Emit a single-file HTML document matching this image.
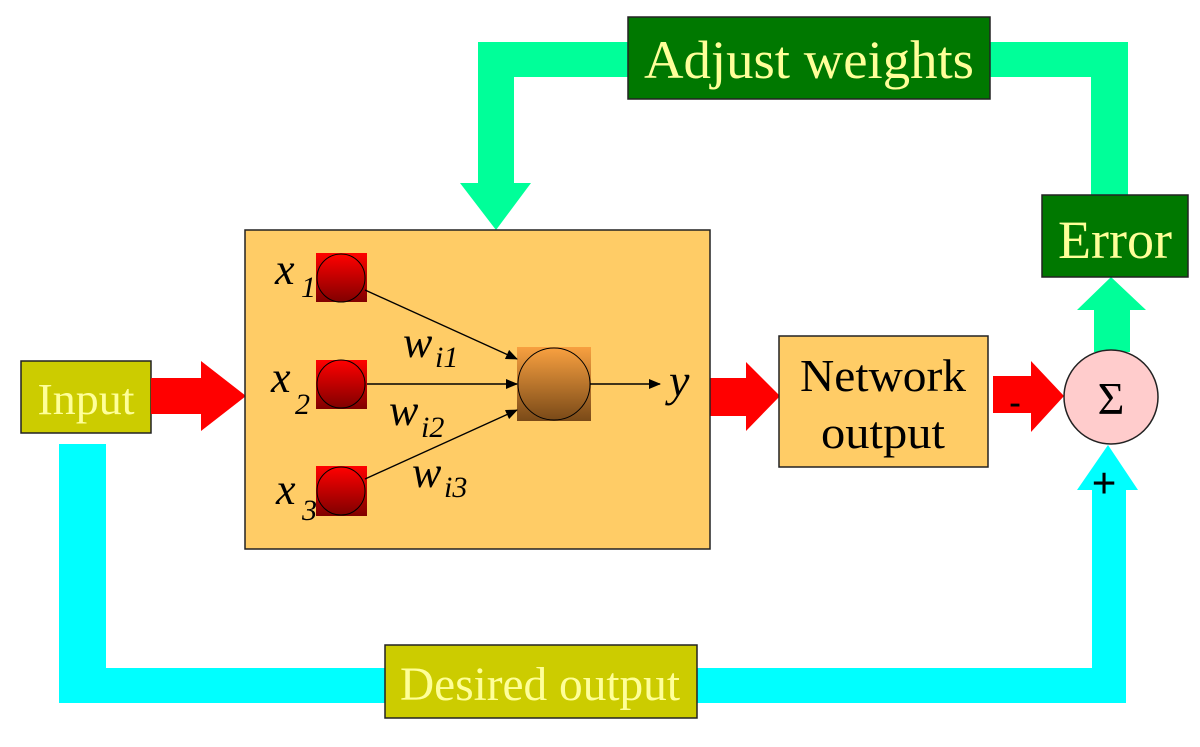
<!DOCTYPE html>
<html><head><meta charset="utf-8"><style>
html,body{margin:0;padding:0;background:#fff;}
svg{display:block;}
text{font-family:"Liberation Serif",serif;}
</style></head><body>
<svg width="1200" height="747" viewBox="0 0 1200 747" xmlns="http://www.w3.org/2000/svg">
<defs>
<linearGradient id="rg" x1="0" y1="0" x2="0" y2="1"><stop offset="0" stop-color="#ff0000"/><stop offset="1" stop-color="#800000"/></linearGradient>
<linearGradient id="og" x1="0" y1="0" x2="0" y2="1"><stop offset="0" stop-color="#f8a040"/><stop offset="1" stop-color="#7a4a18"/></linearGradient>
<marker id="ah" markerWidth="12" markerHeight="10" refX="11" refY="5" orient="auto" markerUnits="userSpaceOnUse"><path d="M0,0 L12,5 L0,10 Z" fill="#000"/></marker>
</defs>
<path d="M59,444 H106 V668 H1092 V490 H1077 L1108,445 L1138,490 H1126 V703 H59 Z" fill="#00ffff"/>
<path d="M478,42 H1128 V196 H1091 V77 H514 V183 H531 L496,230 L460,183 H478 Z" fill="#00ff99"/>
<path d="M1094,352 V310 H1077 L1111,277 L1146,310 H1130 V352 Z" fill="#00ff99"/>
<rect x="628" y="17" width="362" height="82" fill="#007800" stroke="#222" stroke-width="1.5"/>
<text x="809" y="78" font-size="54" fill="#ffff99" text-anchor="middle" textLength="330" lengthAdjust="spacingAndGlyphs">Adjust weights</text>
<rect x="1042" y="195" width="146" height="82" fill="#007800" stroke="#222" stroke-width="1.5"/>
<text x="1115" y="258" font-size="54" fill="#ffff99" text-anchor="middle" textLength="114" lengthAdjust="spacingAndGlyphs">Error</text>
<rect x="21" y="361" width="130" height="72" fill="#cccc00" stroke="#222" stroke-width="1.5"/>
<text x="86" y="414" font-size="44" fill="#ffff99" text-anchor="middle" textLength="97" lengthAdjust="spacingAndGlyphs">Input</text>
<rect x="385" y="645" width="312" height="73" fill="#cccc00" stroke="#222" stroke-width="1.5"/>
<text x="540" y="700" font-size="48" fill="#ffff99" text-anchor="middle" textLength="280" lengthAdjust="spacingAndGlyphs">Desired output</text>
<path d="M151,378 H201 V361 L246,396 L201,431 V414 H151 Z" fill="#ff0000"/>
<path d="M710,378 H746 V362 L780,396 L746,431 V416 H710 Z" fill="#ff0000"/>
<path d="M993,376 H1031 V361 L1064,396 L1031,432 V413 H993 Z" fill="#ff0000"/>
<text x="1015" y="413" font-size="34" font-weight="bold" fill="#000" text-anchor="middle" font-family="Liberation Sans,sans-serif">-</text>
<rect x="245" y="230" width="465" height="319" fill="#ffcc66" stroke="#222" stroke-width="1.5"/>
<rect x="779" y="336" width="209" height="131" fill="#ffcc66" stroke="#222" stroke-width="1.5"/>
<text x="883" y="391" font-size="46" fill="#000" text-anchor="middle" textLength="166" lengthAdjust="spacingAndGlyphs">Network</text>
<text x="883" y="448" font-size="46" fill="#000" text-anchor="middle" textLength="124" lengthAdjust="spacingAndGlyphs">output</text>
<g stroke="#000" stroke-width="1">
<rect x="316" y="253" width="51" height="49" fill="url(#rg)" stroke="none"/>
<circle cx="341" cy="278" r="24" fill="url(#rg)"/>
<rect x="316" y="360" width="51" height="49" fill="url(#rg)" stroke="none"/>
<circle cx="341" cy="384" r="24" fill="url(#rg)"/>
<rect x="316" y="466" width="51" height="50" fill="url(#rg)" stroke="none"/>
<circle cx="341" cy="491" r="24" fill="url(#rg)"/>
<rect x="517" y="347" width="74" height="74" fill="url(#og)" stroke="none"/>
<circle cx="554" cy="384" r="36" fill="url(#og)"/>
</g>
<g stroke="#000" stroke-width="1.4" marker-end="url(#ah)">
<line x1="365" y1="290" x2="517" y2="359"/>
<line x1="367" y1="384" x2="517" y2="384"/>
<line x1="365" y1="479" x2="517" y2="410"/>
<line x1="590" y1="384" x2="660" y2="384"/>
</g>
<g font-style="italic" fill="#000">
<text x="275" y="284" font-size="44">x</text><text x="301" y="297" font-size="30">1</text>
<text x="271" y="392" font-size="44">x</text><text x="295" y="414" font-size="30">2</text>
<text x="276" y="504" font-size="44">x</text><text x="302" y="520" font-size="30">3</text>
<text x="403" y="357" font-size="44">w</text><text x="435" y="367" font-size="30">i1</text>
<text x="389" y="425" font-size="44">w</text><text x="421" y="437" font-size="30">i2</text>
<text x="412" y="487" font-size="44">w</text><text x="444" y="497" font-size="30">i3</text>
<text x="669" y="396" font-size="46">y</text>
</g>
<circle cx="1111" cy="397" r="47" fill="#ffcccc" stroke="#222" stroke-width="1.5"/>
<text x="1111" y="414" font-size="46" fill="#000" text-anchor="middle">Σ</text>
<text x="1104" y="498" font-size="44" font-weight="bold" fill="#000" text-anchor="middle" font-family="Liberation Sans,sans-serif">+</text>
</svg>
</body></html>
